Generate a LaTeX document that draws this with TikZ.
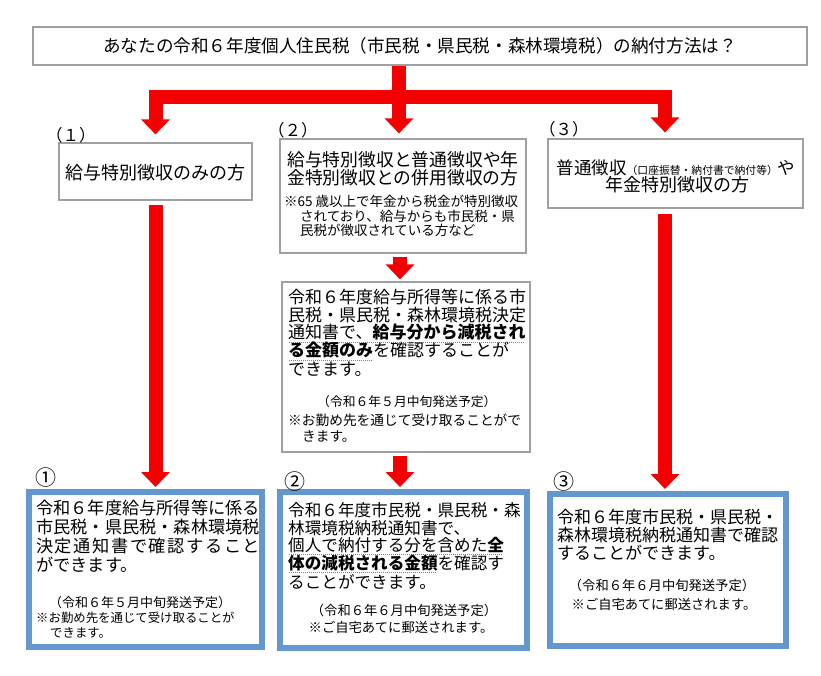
\documentclass[tikz,border=0pt]{standalone}
\usepackage{fontspec}
\setmainfont{Noto Sans CJK JP}
\usetikzlibrary{arrows.meta}
\definecolor{boxgray}{RGB}{160,160,160}
\definecolor{boxblue}{RGB}{98,152,206}
\definecolor{arrred}{RGB}{245,0,0}
\newcommand\fs[1]{\fontsize{#1}{#1}\selectfont}
\newsavebox\ulsave
\newcommand\ulin[1]{\sbox\ulsave{#1}\rlap{\raisebox{-3.5pt}{\color{gray}\leaders\hbox to 2pt{\hfil\rule{1.2pt}{0.5pt}}\hskip\wd\ulsave}}\usebox\ulsave}
\tikzset{
  graybox/.style={draw=boxgray, line width=1.2pt, inner sep=0pt, fill=white},
  bluebox/.style={draw=boxblue, line width=6pt, inner sep=0pt, fill=white},
  ln/.style={anchor=west, inner sep=0pt},
  ctr/.style={anchor=center, inner sep=0pt},
  redarrow/.style={draw=arrred, line width=14pt, line join=miter, -{Triangle[width=28pt,length=15pt]}}
}
\begin{document}
\begin{tikzpicture}[x=1pt,y=-1pt]
\fill[white] (0,0) rectangle (821,676);
\useasboundingbox (0,0) rectangle (821,676);

% title
\node[graybox, minimum width=774pt, minimum height=38pt, font=\fs{17.6}] (title) at (420,46)
  {あなたの令和６年度個人住民税（市民税・県民税・森林環境税）の納付方法は？};

% upper boxes
\node[graybox, minimum width=193pt, minimum height=57pt] (b1) at (155.5,171.5) {};
\node[graybox, minimum width=246pt, minimum height=114pt] (b2) at (403,196) {};
\node[graybox, minimum width=255pt, minimum height=69pt] (b3) at (675.5,173.5) {};
\node[graybox, minimum width=248pt, minimum height=170pt] (mid) at (406,367) {};

% result boxes
\node[bluebox, minimum width=233pt, minimum height=155pt] (r1) at (145.5,569.5) {};
\node[bluebox, minimum width=247pt, minimum height=156pt] (r2) at (403.5,570) {};
\node[bluebox, minimum width=236pt, minimum height=152pt] (r3) at (668,570) {};

% labels
\node[ln, font=\fs{16.5}] (n1) at (46,135) {（１）};
\node[ln, font=\fs{16.5}] (n2) at (268,130) {（２）};
\node[ln, font=\fs{16.5}] (n3) at (539,129) {（３）};
\node[ctr, font=\fs{21}] (c1) at (46,478) {①};
\node[ctr, font=\fs{21}] (c2) at (295,482) {②};
\node[ctr, font=\fs{21}] (c3) at (564,482) {③};

% box (1)
\node[ctr, font=\fs{18}] (b1t) at (155,173) {給与特別徴収のみの方};

% box (2)
\node[ln, font=\fs{17.8}] (b2a) at (287,160) {給与特別徴収と普通徴収や年};
\node[ln, font=\fs{17.8}] (b2b) at (287,178) {金特別徴収との併用徴収の方};
\node[ln, font=\fs{13.5}] (b2c) at (284,201) {※65 歳以上で年金から税金が特別徴収};
\node[ln, font=\fs{13.5}] (b2d) at (300,216) {されており、給与からも市民税・県};
\node[ln, font=\fs{13.5}] (b2e) at (300,230) {民税が徴収されている方など};

% box (3)
\node[ctr] (b3a) at (676,168) {\fs{17.5}普通徴収{\fs{10.8}（口座振替・納付書で納付等）}や};
\node[ctr, font=\fs{18}] (b3b) at (677,185) {年金特別徴収の方};

% middle box
\node[ln, font=\fs{17}] (m1) at (288,297) {令和６年度給与所得等に係る市};
\node[ln, font=\fs{17}] (m2) at (288,315) {民税・県民税・森林環境税決定};
\node[ln, font=\fs{17}] (m3) at (288,333) {\ulin{通知書で、\textbf{給与分から減税され}}};
\node[ln, font=\fs{17}] (m4) at (288,351) {\ulin{\textbf{る金額のみ}}を確認することが};
\node[ln, font=\fs{17}] (m5) at (288,369) {できます。};
\node[ln, font=\fs{12.8}] (m6) at (317,402) {（令和６年５月中旬発送予定）};
\node[ln, font=\fs{13.7}] (m7) at (288,420) {※お勤め先を通じて受け取ることがで};
\node[ln, font=\fs{13.7}] (m8) at (302,436) {きます。};

% result 1
\node[ln, font=\fs{17.2}] (p1) at (36,508) {令和６年度給与所得等に係る};
\node[ln, font=\fs{17.2}] (p2) at (36,527) {市民税・県民税・森林環境税};
\node[ln, font=\fs{17.2}] (p3) at (36,546) {\makebox[224pt][s]{決\hfill 定\hfill 通\hfill 知\hfill 書\hfill で\hfill 確\hfill 認\hfill す\hfill る\hfill こ\hfill と}};
\node[ln, font=\fs{17.2}] (p4) at (36,565) {ができます。};
\node[ln, font=\fs{13}] (p5) at (49,603) {（令和６年５月中旬発送予定）};
\node[ln, font=\fs{12.4}] (p6) at (36,618) {※お勤め先を通じて受け取ることが};
\node[ln, font=\fs{12.4}] (p7) at (50,633) {できます。};

% result 2
\node[ln, font=\fs{16.6}] (q1) at (288,510) {令和６年度市民税・県民税・森};
\node[ln, font=\fs{16.6}] (q2) at (288,528) {林環境税納税通知書で、};
\node[ln, font=\fs{16.6}] (q3) at (288,546) {\ulin{個人で納付する分を含めた\textbf{全}}};
\node[ln, font=\fs{16.6}] (q4) at (288,564) {\ulin{\textbf{体の減税される金額}}を確認す};
\node[ln, font=\fs{16.6}] (q5) at (288,582) {ることができます。};
\node[ctr, font=\fs{13.3}] (q6) at (404,610) {（令和６年６月中旬発送予定）};
\node[ctr, font=\fs{13.3}] (q7) at (401,627) {※ご自宅あてに郵送されます。};

% result 3
\node[ln, font=\fs{17}] (s1) at (557,517) {令和６年度市民税・県民税・};
\node[ln, font=\fs{17}] (s2) at (557,535) {森林環境税納税通知書で確認};
\node[ln, font=\fs{17}] (s3) at (557,553) {することができます。};
\node[ctr, font=\fs{13.3}] (s4) at (662,585) {（令和６年６月中旬発送予定）};
\node[ctr, font=\fs{13.3}] (s5) at (664,604) {※ご自宅あてに郵送されます。};

% connectors
\coordinate (J) at (399,97);
\coordinate (X3) at (665,0);
\coordinate (X2) at (400,0);
\draw[redarrow] (title.south -| J) -- ([yshift=5pt]b2.north -| J);
\draw[redarrow] (J) -| ([yshift=8pt]b1.north);
\draw[redarrow] (J) -| ([yshift=6pt]b3.north -| X3);
\draw[redarrow] ([yshift=-4pt]b1.south) -- ([yshift=2pt]r1.north -| b1.south);
\draw[redarrow] ([yshift=-5pt]b3.south -| X3) -- ([yshift=2pt]r3.north -| X3);
\draw[redarrow] ([yshift=-3pt]b2.south -| X2) -- ([yshift=2pt]mid.north -| X2);
\draw[redarrow] ([yshift=-3pt]mid.south -| X2) -- ([yshift=2pt]r2.north -| X2);
\end{tikzpicture}
\end{document}
